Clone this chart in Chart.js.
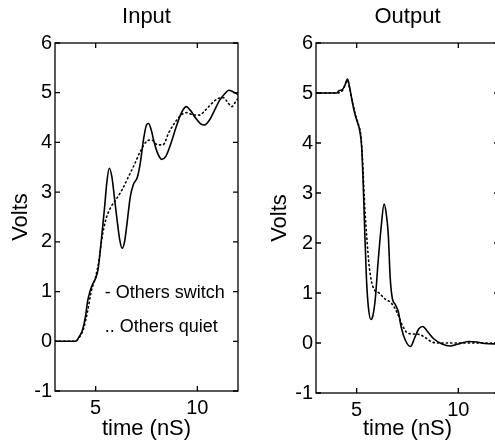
<!DOCTYPE html>
<html lang="en">
<head>
<meta charset="UTF-8">
<title>Input / Output</title>
<script src="https://cdn.jsdelivr.net/npm/chart.js"></script>
<style>
  html, body { margin: 0; padding: 0; background: #fff; overflow: hidden; }
  #wrap { position: relative; width: 495px; height: 444px; overflow: hidden; }
  canvas { position: absolute; top: 0; }
  #inputChart { left: 0; }
  #outputChart { left: 248px; }
</style>
</head>
<body>
<div id="wrap">
  <canvas id="inputChart" width="248" height="444"></canvas>
  <canvas id="outputChart" width="262" height="444"></canvas>
</div>
<script>
// data (time in nS, volts)
const inSwitchT = [3, 4.0, 4.2, 4.35, 4.5, 4.6, 4.72, 4.85, 5.0, 5.12, 5.22, 5.32, 5.44, 5.55, 5.67, 5.8, 5.92, 6.05, 6.18, 6.3, 6.42, 6.55, 6.7, 6.85, 7.05, 7.2, 7.35, 7.5, 7.6, 7.72, 7.88, 8.05, 8.25, 8.45, 8.7, 8.95, 9.2, 9.45, 9.65, 9.9, 10.15, 10.35, 10.6, 10.85, 11.1, 11.35, 11.55, 11.75, 12];
const inSwitchV = [0, 0, 0.1, 0.22, 0.5, 0.8, 1.0, 1.15, 1.27, 1.45, 1.8, 2.2, 2.7, 3.2, 3.48, 3.3, 2.9, 2.45, 2.05, 1.87, 2.0, 2.4, 2.9, 3.15, 3.3, 3.6, 4.05, 4.35, 4.38, 4.27, 4.0, 3.78, 3.66, 3.72, 3.98, 4.3, 4.58, 4.72, 4.65, 4.5, 4.38, 4.35, 4.45, 4.65, 4.85, 4.98, 5.05, 5.02, 4.96];

const inQuietT = [3, 4.0, 4.2, 4.4, 4.6, 4.78, 5.0, 5.15, 5.3, 5.5, 5.75, 6.0, 6.3, 6.6, 6.9, 7.2, 7.5, 7.75, 8.05, 8.3, 8.6, 8.9, 9.2, 9.5, 9.8, 10.1, 10.4, 10.7, 11.0, 11.3, 11.5, 11.7, 11.85, 12];
const inQuietV = [0, 0, 0.08, 0.25, 0.6, 1.0, 1.3, 1.6, 2.05, 2.45, 2.7, 2.85, 3.05, 3.3, 3.55, 3.82, 4.02, 4.05, 3.95, 3.95, 4.2, 4.4, 4.55, 4.6, 4.55, 4.55, 4.65, 4.78, 4.88, 4.9, 4.8, 4.72, 4.8, 4.88];

const outSwitchT = [3, 4.0, 4.15, 4.3, 4.42, 4.55, 4.65, 4.75, 4.9, 5.05, 5.15, 5.25, 5.32, 5.4, 5.48, 5.58, 5.7, 5.8, 5.92, 6.05, 6.2, 6.35, 6.45, 6.55, 6.65, 6.75, 6.9, 7.05, 7.2, 7.4, 7.65, 7.85, 8.05, 8.25, 8.5, 8.8, 9.2, 9.6, 10.0, 10.5, 10.9, 11.3, 12];
const outSwitchV = [5, 5, 5.05, 5.07, 5.15, 5.28, 5.12, 4.9, 4.6, 4.4, 4.25, 3.9, 3.2, 2.2, 1.3, 0.7, 0.47, 0.55, 0.9, 1.6, 2.3, 2.78, 2.6, 2.2, 1.3, 0.9, 0.77, 0.62, 0.3, 0.05, -0.07, 0.1, 0.28, 0.33, 0.22, 0.08, -0.02, -0.06, -0.02, 0.03, 0.02, -0.01, -0.02];

const outQuietT = [3, 4.0, 4.3, 4.55, 4.65, 4.8, 4.95, 5.1, 5.22, 5.32, 5.4, 5.5, 5.6, 5.72, 5.85, 6.1, 6.4, 6.7, 7.0, 7.25, 7.5, 7.8, 8.1, 8.4, 8.7, 9.1, 9.8, 11, 12];
const outQuietV = [5, 5, 5.05, 5.25, 5.1, 4.8, 4.55, 4.35, 4.1, 3.4, 2.7, 2.1, 1.6, 1.25, 1.08, 1.0, 0.88, 0.8, 0.6, 0.35, 0.2, 0.18, 0.17, 0.1, 0.02, 0, 0, 0, 0];

const xTickValues = [5, 10];
const noteLabels = ['- Others switch', '.. Others quiet'];

const FONT = '"Liberation Sans", Arial, Helvetica, sans-serif';

function pts(t, v) {
    return t.map((x, i) => ({ x: x, y: v[i] }));
}

// box with inward ticks, plot title and text notes
const framePlugin = {
    id: 'frame',
    afterDraw(chart, args, opts) {
        const { ctx, chartArea: a, scales: { x, y } } = chart;
        ctx.save();
        ctx.strokeStyle = '#000';
        ctx.lineWidth = 1.3;
        ctx.strokeRect(a.left, a.top, a.right - a.left, a.bottom - a.top);
        ctx.beginPath();
        y.ticks.forEach(t => {
            const py = y.getPixelForValue(t.value);
            ctx.moveTo(a.left, py); ctx.lineTo(a.left + 5, py);
            ctx.moveTo(a.right, py); ctx.lineTo(a.right - 5, py);
        });
        x.ticks.forEach(t => {
            const px = x.getPixelForValue(t.value);
            ctx.moveTo(px, a.bottom); ctx.lineTo(px, a.bottom - 5);
            ctx.moveTo(px, a.top); ctx.lineTo(px, a.top + 5);
        });
        ctx.stroke();

        ctx.fillStyle = '#000';
        ctx.font = '22px ' + FONT;
        ctx.textAlign = 'center';
        ctx.textBaseline = 'middle';
        ctx.fillText(opts.title, (a.left + a.right) / 2, opts.titleY);

        if (opts.notes) {
            ctx.font = '18px ' + FONT;
            ctx.textAlign = 'left';
            opts.notes.forEach((n, i) => {
                ctx.fillText(noteLabels[i], x.getPixelForValue(n.x), y.getPixelForValue(n.y));
            });
        }
        ctx.restore();
    }
};

function makeChart(id, series, o) {
    return new Chart(document.getElementById(id), {
        type: 'line',
        data: {
            datasets: [{
                data: pts(series[0], series[1]),
                borderColor: '#000',
                borderWidth: 1.6,
                pointRadius: 0,
                cubicInterpolationMode: 'monotone'
            }, {
                data: pts(series[2], series[3]),
                borderColor: '#000',
                borderWidth: 1.6,
                borderDash: [1.2, 3.2],
                borderCapStyle: 'round',
                pointRadius: 0,
                cubicInterpolationMode: 'monotone'
            }]
        },
        options: {
            responsive: false,
            animation: false,
            events: [],
            layout: { padding: { top: 43, right: o.padRight, left: 0, bottom: 0 } },
            plugins: {
                legend: { display: false },
                tooltip: { enabled: false },
                frame: { title: o.title, titleY: 17, notes: o.notes }
            },
            scales: {
                x: {
                    type: 'linear',
                    min: 3,
                    max: 12,
                    grid: { display: false, drawTicks: false },
                    border: { display: false },
                    afterBuildTicks: s => { s.ticks = xTickValues.map(v => ({ value: v })); },
                    afterFit: s => { s.height = o.xHeight; },
                    ticks: { color: '#000', padding: 5, font: { family: FONT, size: 20 } },
                    title: {
                        display: true, text: 'time (nS)', color: '#000',
                        font: { family: FONT, size: 22 }, padding: { top: 0, bottom: 2 }
                    }
                },
                y: {
                    min: -1,
                    max: 6,
                    grid: { display: false, drawTicks: false },
                    border: { display: false },
                    afterFit: s => { s.width = o.yWidth; },
                    ticks: { stepSize: 1, color: '#000', padding: 3, font: { family: FONT, size: 20 } },
                    title: {
                        display: true, text: 'Volts', color: '#000',
                        font: { family: FONT, size: 22 }, padding: { top: o.yTitlePad, bottom: 0 }
                    }
                }
            }
        },
        plugins: [framePlugin]
    });
}

makeChart('inputChart', [inSwitchT, inSwitchV, inQuietT, inQuietV], {
    title: 'Input', padRight: 10, xHeight: 53, yWidth: 55, yTitlePad: 8,
    notes: [{ x: 5.45, y: 0.97 }, { x: 5.45, y: 0.28 }]
});
makeChart('outputChart', [outSwitchT, outSwitchV, outQuietT, outQuietV], {
    title: 'Output', padRight: 11, xHeight: 51, yWidth: 68, yTitlePad: 19
});
</script>
</body>
</html>
